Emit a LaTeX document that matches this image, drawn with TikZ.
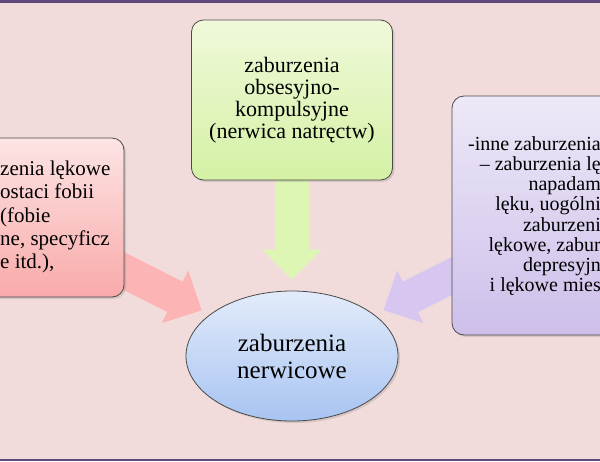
\documentclass[tikz,border=0pt]{standalone}
\usepackage{fontspec}
\setmainfont{Liberation Serif}
\newfontfamily\szeryf{Liberation Serif}
\usepackage{xcolor}
\usepackage{tikz}
\usetikzlibrary{arrows.meta, positioning, shapes.geometric, shadows}
\pgfdeclarelayer{back}
\pgfsetlayers{back,main}

\definecolor{tlo}{HTML}{F2DCDB}
\definecolor{pasek}{HTML}{5F497A}
\definecolor{ramka}{HTML}{4A4A4A}
\definecolor{zielona}{HTML}{DDF6B4}
\definecolor{czerwona}{HTML}{FCB4B4}
\definecolor{fioletowa}{HTML}{D6C6F0}
\definecolor{zielony1}{HTML}{F0F9DA}
\definecolor{zielony2}{HTML}{D4F1A4}
\definecolor{czerwony1}{HTML}{FDE4E4}
\definecolor{czerwony2}{HTML}{F9AAAA}
\definecolor{fiolet1}{HTML}{EEE8F8}
\definecolor{fiolet2}{HTML}{CDBFEA}
\definecolor{niebieski1}{HTML}{E2EBFA}
\definecolor{niebieski2}{HTML}{A8C4F2}

\begin{document}
\begin{tikzpicture}[
    x=1pt, y=-1pt,
    box/.style={rectangle, rounded corners=12pt, draw=ramka, line width=0.8pt,
        drop shadow={opacity=0.25, shadow xshift=2pt, shadow yshift=-2pt}},
    blok/.style={line width=34pt, -{Triangle[width=57pt, length=30pt]}},
    txt/.style={font=\szeryf\fontsize{21}{23.3}\selectfont, inner sep=0pt}
]
\useasboundingbox (0,0) rectangle (600,461);
\clip (0,0) rectangle (600,461);

% boxes
\node[box, top color=zielony1, bottom color=zielony2, minimum width=201pt, minimum height=160pt,
      font=\szeryf\fontsize{22}{22}\selectfont, align=center] (obsesje) at (292,100)
      {zaburzenia\\obsesyjno-\\kompulsyjne\\(nerwica natręctw)};
\node[box, top color=czerwony1, bottom color=czerwony2, minimum width=200pt, minimum height=159pt] (fobie) at (24,217.5) {};
\node[txt, anchor=west, align=left] (fobie-txt) at (0,217)
      {zenia lękowe\\ostaci fobii\\(fobie\\ne, specyficz\\e itd.),};
\node[box, top color=fiolet1, bottom color=fiolet2, minimum width=200pt, minimum height=239pt] (inne) at (552,215.5) {};
\node[txt, font=\szeryf\fontsize{20}{20.2}\selectfont, anchor=east, align=right] (inne-txt) at (601,216)
      {-inne zaburzenia\\– zaburzenia lę\\napadam\\lęku, uogólni\\zaburzeni\\lękowe, zabur\\depresyjn\\i lękowe mies};
\node[ellipse, draw=ramka, line width=0.8pt, top color=niebieski1, bottom color=niebieski2,
      drop shadow={opacity=0.25, shadow xshift=2pt, shadow yshift=-2pt},
      minimum width=212pt, minimum height=130pt, inner sep=0pt,
      font=\szeryf\fontsize{25}{27}\selectfont, align=center] (nerwice) at (292,356)
      {zaburzenia\\nerwicowe};

\coordinate (fobie-wy) at (112,265);
\coordinate (inne-wy) at (462,271);

% arrows behind the boxes
\begin{pgfonlayer}{back}
\fill[tlo] (0,0) rectangle (600,461);
\fill[pasek] (0,0) rectangle (600,2.5);
\fill[pasek] (0,459) rectangle (600,461);
\draw[blok, zielona, shorten >=11pt] (obsesje.south) -- (nerwice.north);
\draw[blok, czerwona, shorten >=9pt] (fobie-wy) -- (nerwice);
\draw[blok, fioletowa, shorten >=10pt] (inne-wy) -- (nerwice);
\end{pgfonlayer}

\end{tikzpicture}
\end{document}
